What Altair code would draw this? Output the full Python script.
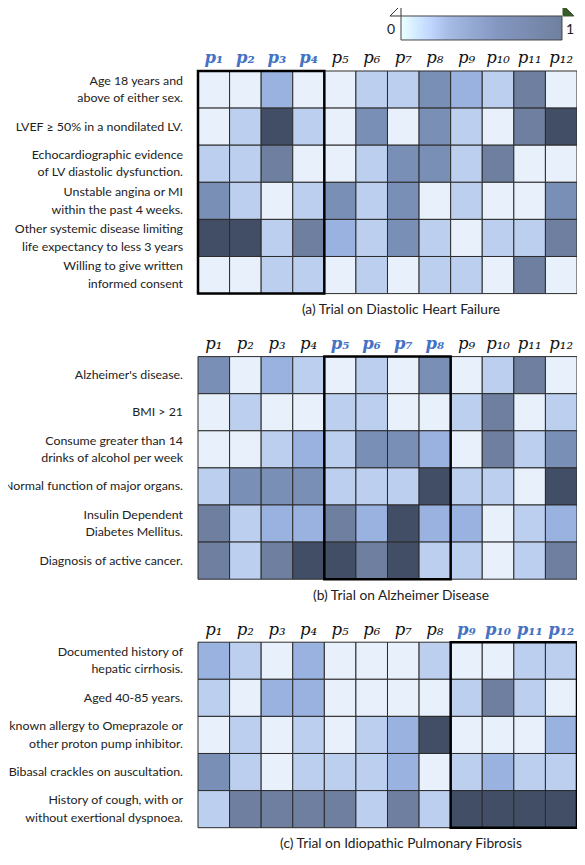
import altair as alt
import pandas as pd

# ---------------- data ----------------
HEADERS = ["p₁", "p₂", "p₃", "p₄", "p₅", "p₆", "p₇", "p₈", "p₉", "p₁₀", "p₁₁", "p₁₂"]

A_LABELS = [
    "Age 18 years and\nabove of either sex.",
    "LVEF ≥ 50% in a nondilated LV.",
    "Echocardiographic evidence\nof LV diastolic dysfunction.",
    "Unstable angina or MI\nwithin the past 4 weeks.",
    "Other systemic disease limiting\nlife expectancy to less 3 years",
    "Willing to give written\ninformed consent",
]
A_VALS = [
    [0.05, 0.05, 0.45, 0.05, 0.05, 0.30, 0.30, 0.65, 0.45, 0.30, 0.75, 0.05],
    [0.05, 0.30, 0.95, 0.30, 0.05, 0.65, 0.05, 0.65, 0.30, 0.05, 0.75, 0.95],
    [0.30, 0.30, 0.75, 0.05, 0.05, 0.30, 0.65, 0.65, 0.30, 0.75, 0.05, 0.05],
    [0.65, 0.30, 0.05, 0.30, 0.65, 0.30, 0.65, 0.05, 0.30, 0.05, 0.05, 0.65],
    [0.95, 0.95, 0.30, 0.75, 0.45, 0.30, 0.65, 0.30, 0.05, 0.30, 0.30, 0.75],
    [0.05, 0.05, 0.30, 0.30, 0.05, 0.30, 0.05, 0.30, 0.30, 0.05, 0.75, 0.05],
]
A_HIGHLIGHT = [0, 3]
A_CAPTION = "(a) Trial on Diastolic Heart Failure"

B_LABELS = [
    "Alzheimer's disease.",
    "BMI > 21",
    "Consume greater than 14\ndrinks of alcohol per week",
    "Normal function of major organs.",
    "Insulin Dependent\nDiabetes Mellitus.",
    "Diagnosis of active cancer.",
]
B_VALS = [
    [0.65, 0.05, 0.45, 0.30, 0.05, 0.30, 0.05, 0.65, 0.05, 0.30, 0.75, 0.05],
    [0.05, 0.30, 0.05, 0.05, 0.30, 0.30, 0.05, 0.05, 0.30, 0.75, 0.05, 0.30],
    [0.05, 0.05, 0.30, 0.45, 0.30, 0.65, 0.65, 0.45, 0.05, 0.75, 0.30, 0.65],
    [0.30, 0.65, 0.65, 0.65, 0.30, 0.30, 0.30, 0.95, 0.30, 0.30, 0.05, 0.95],
    [0.75, 0.30, 0.45, 0.45, 0.75, 0.45, 0.95, 0.45, 0.45, 0.05, 0.30, 0.45],
    [0.75, 0.30, 0.75, 0.95, 0.95, 0.75, 0.95, 0.30, 0.30, 0.05, 0.30, 0.75],
]
B_HIGHLIGHT = [4, 7]
B_CAPTION = "(b) Trial on Alzheimer Disease"

C_LABELS = [
    "Documented history  of\nhepatic cirrhosis.",
    "Aged 40-85 years.",
    "known allergy to Omeprazole or\nother proton pump inhibitor.",
    "Bibasal crackles on auscultation.",
    "History of cough, with or\nwithout exertional dyspnoea.",
]
C_VALS = [
    [0.45, 0.30, 0.05, 0.45, 0.05, 0.05, 0.05, 0.30, 0.05, 0.05, 0.30, 0.30],
    [0.30, 0.05, 0.45, 0.45, 0.05, 0.05, 0.05, 0.05, 0.30, 0.75, 0.30, 0.05],
    [0.05, 0.30, 0.05, 0.30, 0.05, 0.30, 0.45, 0.95, 0.05, 0.05, 0.05, 0.45],
    [0.65, 0.30, 0.05, 0.30, 0.30, 0.30, 0.45, 0.05, 0.30, 0.45, 0.30, 0.30],
    [0.30, 0.75, 0.75, 0.75, 0.75, 0.30, 0.75, 0.30, 0.95, 0.95, 0.95, 0.95],
]
C_HIGHLIGHT = [8, 11]
C_CAPTION = "(c) Trial on Idiopathic Pulmonary Fibrosis"

CELL_LEVELS = [0.05, 0.30, 0.45, 0.65, 0.75, 0.95]
CELL_COLORS = ["#e8f1fb", "#bccfee", "#9ab2e0", "#7a8fb6", "#6e7f9f", "#424e66"]
CB_LEVELS = [0, 0.3, 0.6, 1]
CB_COLORS = ["#ffffff", "#a5bbe3", "#8497c0", "#6f809f"]

# ---------------- layout / style ----------------
W = 379
ROW_H = 37.1
GAP = 63
LINE_H = 17.5
SANS = "Lato"
LABEL_SIZE = 12.4
CAPTION_SIZE = 13.8
HL_BLUE = "#4472c4"

SX = alt.Scale(domain=[0, 12], nice=False, zero=False)


def panel(labels, vals, hl, caption, y0):
    n = len(labels)
    h = ROW_H * n
    sy = alt.Scale(domain=[0, n], range=[y0, y0 + h], nice=False, zero=False)

    cells = pd.DataFrame(
        [{"c": j, "r": i, "v": vals[i][j]} for i in range(n) for j in range(12)]
    )
    heat = (
        alt.Chart(cells)
        .transform_calculate(c1="datum.c + 1", r1="datum.r + 1")
        .mark_rect(stroke="#2b2b2b", strokeWidth=1)
        .encode(
            x=alt.X("c:Q", scale=SX, axis=None),
            x2="c1:Q",
            y=alt.Y("r:Q", scale=sy, axis=None),
            y2="r1:Q",
            fill=alt.Fill(
                "v:Q",
                scale=alt.Scale(domain=CELL_LEVELS, range=CELL_COLORS),
                legend=None,
            ),
        )
    )

    hdf = pd.DataFrame(
        [{"c": j, "label": HEADERS[j], "hl": hl[0] <= j <= hl[1]} for j in range(12)]
    )
    hbase = alt.Chart(hdf).transform_calculate(cm="datum.c + 0.5")
    hdr_norm = (
        hbase.transform_filter("!datum.hl")
        .mark_text(font="DejaVu Serif", fontStyle="italic", fontSize=16.5,
                   baseline="middle", color="#111")
        .encode(x=alt.X("cm:Q", scale=SX, axis=None), y=alt.value(y0 - 12.5),
                text="label:N")
    )
    hdr_hl = (
        hbase.transform_filter("datum.hl")
        .mark_text(font="DejaVu Serif", fontStyle="italic", fontWeight="bold",
                   fontSize=16.5, baseline="middle", color=HL_BLUE)
        .encode(x=alt.X("cm:Q", scale=SX, axis=None), y=alt.value(y0 - 12.5),
                text="label:N")
    )

    ldf = pd.DataFrame(
        [{"r": i, "label": labels[i], "two": "\n" in labels[i]} for i in range(n)]
    )
    lbase = alt.Chart(ldf).transform_calculate(rm="datum.r + 0.5")
    lab1 = (
        lbase.transform_filter("!datum.two")
        .mark_text(align="right", baseline="middle", font=SANS,
                   fontSize=LABEL_SIZE, lineBreak="\n", lineHeight=LINE_H,
                   color="#222")
        .encode(x=alt.value(-15), y=alt.Y("rm:Q", scale=sy, axis=None),
                text="label:N")
    )
    lab2 = (
        lbase.transform_filter("datum.two")
        .mark_text(align="right", baseline="middle", font=SANS,
                   fontSize=LABEL_SIZE, lineBreak="\n", lineHeight=LINE_H,
                   dy=-LINE_H / 2, color="#222")
        .encode(x=alt.value(-15), y=alt.Y("rm:Q", scale=sy, axis=None),
                text="label:N")
    )

    bdf = pd.DataFrame([{"s": hl[0], "e": hl[1] + 1, "t": 0, "b": n}])
    box = (
        alt.Chart(bdf)
        .mark_rect(fill="white", fillOpacity=0, stroke="black", strokeWidth=2.5)
        .encode(x=alt.X("s:Q", scale=SX, axis=None), x2="e:Q",
                y=alt.Y("t:Q", scale=sy, axis=None), y2="b:Q")
    )

    cap = (
        alt.Chart(pd.DataFrame({"t": [caption]}))
        .mark_text(font=SANS, fontSize=CAPTION_SIZE, baseline="middle",
                   color="#222")
        .encode(x=alt.value(203), y=alt.value(y0 + h + 16.5), text="t:N")
    )
    return [heat, box, hdr_norm, hdr_hl, lab1, lab2, cap], h


ya = 0
la, ha = panel(A_LABELS, A_VALS, A_HIGHLIGHT, A_CAPTION, ya)
yb = ya + ha + GAP
lb, hb = panel(B_LABELS, B_VALS, B_HIGHLIGHT, B_CAPTION, yb)
yc = yb + hb + GAP
lc, hc = panel(C_LABELS, C_VALS, C_HIGHLIGHT, C_CAPTION, yc)
TOTAL_H = yc + hc

# colour bar (legend of a hidden layer) with its extension triangles
cb = (
    alt.Chart(pd.DataFrame({"v": [0.0, 1.0]}))
    .mark_point(opacity=0)
    .encode(
        x=alt.value(0), y=alt.value(0),
        stroke=alt.Stroke(
            "v:Q",
            scale=alt.Scale(domain=CB_LEVELS, range=CB_COLORS),
            legend=alt.Legend(
                orient="none", legendX=203, legendY=-55,
                direction="horizontal", gradientLength=161,
                gradientThickness=24, labelOpacity=0, labelExpr="''",
                title=None, gradientStrokeColor="#444",
                gradientStrokeWidth=1, padding=0,
            ),
        ),
    )
)
ticks = (
    alt.Chart(pd.DataFrame({"t": ["0", "1"], "px": [193, 372]}))
    .mark_text(font=SANS, fontSize=14, baseline="middle", color="#222")
    .encode(x=alt.X("px:Q", scale=None), y=alt.value(-41), text="t:N")
)
tri_l = (
    alt.Chart(pd.DataFrame({"px": [197.5]}))
    .mark_point(shape="M1,-1 L1,1 L-1,1 Z", size=121, filled=True,
                fill="white", stroke="#333", strokeWidth=1, opacity=1)
    .encode(x=alt.X("px:Q", scale=None), y=alt.value(-60.5))
)
tri_r = (
    alt.Chart(pd.DataFrame({"px": [370.5]}))
    .mark_point(shape="M-1,-1 L-1,1 L1,1 Z", size=121, filled=True,
                fill="#3b5a2c", stroke="#3b5a2c", strokeWidth=1, opacity=1)
    .encode(x=alt.X("px:Q", scale=None), y=alt.value(-60.5))
)

chart = (
    alt.layer(*(la + lb + lc + [cb, ticks, tri_l, tri_r]))
    .resolve_scale(y="independent")
    .properties(
        width=W,
        height=TOTAL_H,
        autosize=alt.AutoSizeParams(type="none"),
        padding={"left": 190, "top": 63, "right": 0, "bottom": 24},
    )
    .configure_view(strokeWidth=0)
)

chart.save("out.html", embed_options={"renderer": "svg", "actions": False})
